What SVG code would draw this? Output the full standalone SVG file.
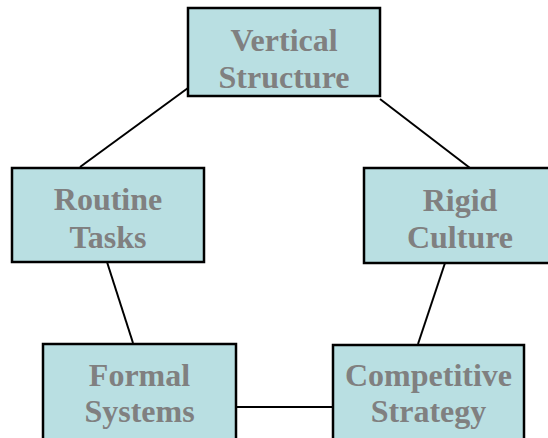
<svg xmlns="http://www.w3.org/2000/svg" width="548" height="438" viewBox="0 0 548 438">
<style>
.box{fill:#B9DFE2;stroke:#000;stroke-width:2.5}
.t{font-family:"Liberation Serif","Times New Roman",serif;font-weight:bold;font-size:32px;fill:#808080;text-anchor:middle}
.c{stroke:#000;stroke-width:2;fill:none}
</style>
<rect width="548" height="438" fill="#fff"/>
<g id="connectors">
<line class="c" x1="188" y1="88" x2="80" y2="167"/>
<line class="c" x1="380" y1="99" x2="470" y2="168"/>
<line class="c" x1="107" y1="262" x2="133" y2="343"/>
<line class="c" x1="445" y1="263" x2="418" y2="344"/>
<line class="c" x1="236" y1="407" x2="333" y2="407"/>
</g>
<g id="vertical-structure">
<rect class="box" x="188" y="8" width="192" height="88"/>
<text class="t" x="284" y="51">Vertical</text>
<text class="t" x="284" y="88">Structure</text>
</g>
<g id="routine-tasks">
<rect class="box" x="12" y="168" width="192" height="94"/>
<text class="t" x="108" y="210">Routine</text>
<text class="t" x="108" y="248">Tasks</text>
</g>
<g id="rigid-culture">
<rect class="box" x="364" y="168" width="192" height="95"/>
<text class="t" x="460" y="211">Rigid</text>
<text class="t" x="460" y="248">Culture</text>
</g>
<g id="formal-systems">
<rect class="box" x="43" y="344" width="193" height="100"/>
<text class="t" x="139.5" y="386">Formal</text>
<text class="t" x="139.5" y="422">Systems</text>
</g>
<g id="competitive-strategy">
<rect class="box" x="333" y="345" width="191" height="100"/>
<text class="t" x="428.5" y="386">Competitive</text>
<text class="t" x="428.5" y="422">Strategy</text>
</g>
</svg>
